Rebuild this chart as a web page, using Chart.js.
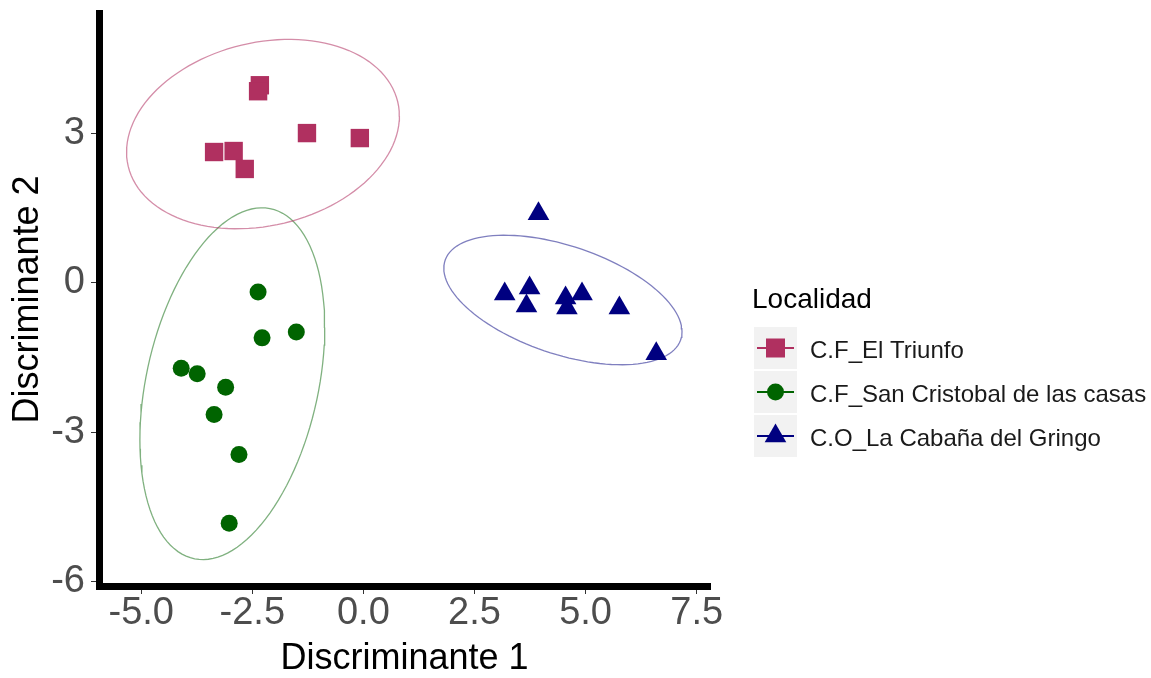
<!DOCTYPE html>
<html>
<head>
<meta charset="utf-8">
<script src="https://cdn.jsdelivr.net/npm/chart.js@4/dist/chart.umd.min.js"></script>
<style>
  html, body { margin: 0; padding: 0; background: #ffffff; }
  #wrap { width: 1151px; height: 678px; }
</style>
</head>
<body>
<div id="wrap"><canvas id="c" width="1151" height="678"></canvas></div>
<script>
// Groups (Localidad)
const groups = ['C.F_El Triunfo', 'C.F_San Cristobal de las casas', 'C.O_La Cabaña del Gringo'];

// Discriminant scores per group
const triunfoX = [-2.33, -2.37, -1.27, -0.08, -3.36, -2.92, -2.67];
const triunfoY = [3.96, 3.84, 3.00, 2.90, 2.62, 2.64, 2.28];

const sanCristobalX = [-2.37, -2.28, -1.51, -4.10, -3.74, -3.10, -3.36, -2.80, -3.02];
const sanCristobalY = [-0.19, -1.11, -0.99, -1.72, -1.83, -2.10, -2.65, -3.45, -4.83];

const cabanaX = [3.94, 3.18, 3.74, 3.67, 4.55, 4.58, 4.92, 5.76, 6.59];
const cabanaY = [1.38, -0.23, -0.11, -0.47, -0.31, -0.51, -0.23, -0.51, -1.43];

// Confidence ellipses per group: centre, half-extent along x and y, correlation
const ellipseCx = [-2.26, -2.95, 4.49];
const ellipseCy = [2.98, -2.03, -0.35];
const ellipseRx = [3.07, 2.08, 2.68];
const ellipseRy = [1.90, 3.53, 1.30];
const ellipseRho = [0.19, 0.32, -0.49];

// Axis ticks
const xTicks = [-5, -2.5, 0, 2.5, 5, 7.5];
const xTickLabels = ['-5.0', '-2.5', '0.0', '2.5', '5.0', '7.5'];
const yTicks = [-6, -3, 0, 3];
const yTickLabels = ['-6', '-3', '0', '3'];

const pointColors = ['#b03060', '#006400', '#000080'];
const ringColors = ['rgba(176,48,96,0.55)', 'rgba(0,100,0,0.5)', 'rgba(0,0,128,0.5)'];
const FONT = '"Liberation Sans", Arial, Helvetica, sans-serif';

const zip = (xs, ys) => xs.map((x, i) => ({ x: x, y: ys[i] }));

function ellipsePoints(i) {
  const pts = [];
  const n = 120;
  const s = Math.sqrt(1 - ellipseRho[i] * ellipseRho[i]);
  for (let k = 0; k <= n; k++) {
    const t = (k / n) * 2 * Math.PI;
    pts.push({
      x: ellipseCx[i] + ellipseRx[i] * Math.cos(t),
      y: ellipseCy[i] + ellipseRy[i] * (ellipseRho[i] * Math.cos(t) + s * Math.sin(t))
    });
  }
  return pts;
}

const seriesData = [zip(triunfoX, triunfoY), zip(sanCristobalX, sanCristobalY), zip(cabanaX, cabanaY)];
const shapes = ['rect', 'circle', 'triangle'];
const radii = [13, 8.5, 12.5];

const datasets = [];
groups.forEach((g, i) => {
  datasets.push({
    label: g,
    data: seriesData[i],
    pointStyle: shapes[i],
    pointRadius: radii[i],
    pointHoverRadius: radii[i],
    backgroundColor: pointColors[i],
    borderColor: pointColors[i],
    pointBorderWidth: 0,
    showLine: false,
    order: 0
  });
});
groups.forEach((g, i) => {
  datasets.push({
    label: g + ' ellipse',
    data: ellipsePoints(i),
    showLine: true,
    pointRadius: 0,
    borderColor: ringColors[i],
    borderWidth: 1.3,
    fill: false,
    tension: 0,
    order: 1
  });
});

// marker helpers for the legend keys
function drawMarker(ctx, shape, color, cx, cy) {
  ctx.fillStyle = color;
  ctx.beginPath();
  if (shape === 'rect') {
    ctx.rect(cx - 9.5, cy - 9.5, 19, 19);
  } else if (shape === 'circle') {
    ctx.arc(cx, cy, 8.5, 0, Math.PI * 2);
  } else {
    const r = 12.5;
    ctx.moveTo(cx, cy - r);
    ctx.lineTo(cx + r * Math.sin(Math.PI / 3), cy + r / 2);
    ctx.lineTo(cx - r * Math.sin(Math.PI / 3), cy + r / 2);
    ctx.closePath();
  }
  ctx.fill();
}

const groupLegend = {
  id: 'groupLegend',
  afterDraw(chart) {
    const ctx = chart.ctx;
    ctx.save();
    ctx.textAlign = 'left';
    ctx.textBaseline = 'middle';
    ctx.fillStyle = '#000000';
    ctx.font = '28px ' + FONT;
    ctx.fillText('Localidad', 752, 300);
    groups.forEach((g, i) => {
      const top = 327 + i * 44;
      const cy = top + 21;
      ctx.fillStyle = '#f2f2f2';
      ctx.fillRect(754, top, 43, 42);
      ctx.strokeStyle = pointColors[i];
      ctx.lineWidth = 2;
      ctx.beginPath();
      ctx.moveTo(757, cy);
      ctx.lineTo(794, cy);
      ctx.stroke();
      drawMarker(ctx, shapes[i], pointColors[i], 775.5, cy);
      ctx.fillStyle = '#1a1a1a';
      ctx.font = '24px ' + FONT;
      ctx.fillText(g, 810, cy + 3);
    });
    ctx.restore();
  }
};

// keep the plot panel exactly where the axes are fitted
function noEdgePadding(s) {
  s.paddingTop = 0;
  s.paddingBottom = 0;
  s.paddingLeft = 0;
  s.paddingRight = 0;
}

Chart.defaults.font.family = FONT;

new Chart(document.getElementById('c'), {
  type: 'scatter',
  data: { datasets: datasets },
  plugins: [groupLegend],
  options: {
    responsive: false,
    animation: false,
    devicePixelRatio: 1,
    layout: { padding: { left: 0, top: 12, right: 441, bottom: 0 } },
    plugins: { legend: { display: false }, tooltip: { enabled: false } },
    scales: {
      x: {
        type: 'linear',
        min: -5.95,
        max: 7.80,
        afterBuildTicks: (s) => { s.ticks = xTicks.map(v => ({ value: v })); },
        afterFit: (s) => { s.height = 92; noEdgePadding(s); },
        ticks: {
          autoSkip: false,
          maxRotation: 0,
          padding: 0,
          color: '#4d4d4d',
          font: { size: 38, lineHeight: 1.05 },
          callback: (v, i) => xTickLabels[i]
        },
        grid: { display: true, drawOnChartArea: false, drawTicks: true, tickLength: 8, color: '#333333', lineWidth: 1 },
        border: { display: true, color: '#000000', width: 7 },
        title: { display: true, text: 'Discriminante 1', color: '#000000', font: { size: 36, lineHeight: 1 }, padding: { top: 0, bottom: 1 } }
      },
      y: {
        type: 'linear',
        min: -6.09,
        max: 5.41,
        afterBuildTicks: (s) => { s.ticks = yTicks.map(v => ({ value: v })); },
        afterFit: (s) => { s.width = 99; noEdgePadding(s); },
        ticks: {
          autoSkip: false,
          padding: 6,
          color: '#4d4d4d',
          font: { size: 38, lineHeight: 1.05 },
          callback: (v, i) => yTickLabels[i]
        },
        grid: { display: true, drawOnChartArea: false, drawTicks: true, tickLength: 8, color: '#333333', lineWidth: 1 },
        border: { display: true, color: '#000000', width: 7 },
        title: { display: true, text: 'Discriminante 2', color: '#000000', font: { size: 36, lineHeight: 1 }, padding: { top: 10, bottom: 0 } }
      }
    }
  }
});
</script>
</body>
</html>
